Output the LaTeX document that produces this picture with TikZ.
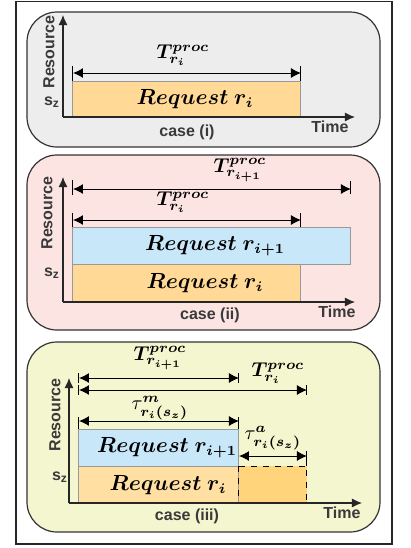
\documentclass[tikz,border=0pt]{standalone}
\usepackage{amsmath,bm}
\usepackage{fontspec}
\setmainfont{Liberation Sans}
\usetikzlibrary{arrows.meta}

\definecolor{panelgray}{HTML}{EDEDED}
\definecolor{panelpink}{HTML}{FCE4E3}
\definecolor{panelyellow}{HTML}{F3F6CE}
\definecolor{reqorange}{HTML}{FFD995}
\definecolor{reqlight}{HTML}{FFDFA2}
\definecolor{reqdark}{HTML}{FFD47A}
\definecolor{reqblue}{HTML}{C8E8FA}
\definecolor{labelgray}{HTML}{3A3A3A}

\tikzset{
	panel/.style={draw=black!80, line width=0.6pt, rounded corners=15pt},
	reqbox/.style={draw=black!40, line width=0.5pt},
	axis/.style={-{Latex[length=5pt,width=4.5pt]}, line width=0.6pt, draw=black!85},
	dimline/.style={{Latex[length=5pt,width=5pt]}-{Latex[length=5pt,width=5pt]}, line width=0.5pt},
	dimbar/.style={line width=0.5pt},
	lbl/.style={font=\bfseries\fontsize{8}{9}\selectfont, text=labelgray, inner sep=0pt},
	mlbl/.style={font=\fontsize{10}{11}\selectfont, inner sep=0pt},
	reqlbl/.style={font=\fontsize{10.5}{11}\selectfont, inner sep=0pt},
}

\begin{document}
\begin{tikzpicture}[x=0.5pt, y=-0.5pt]
	\useasboundingbox (0,0) rectangle (411,548);
	\draw [line width=0.7pt, black!85] (16,1.5) rectangle (392,544);

	% case (i)
	\draw [panel, fill=panelgray] (27,12) rectangle (380,147);
	\coordinate (o1) at (63,117);
	\coordinate (y1) at (63,15);
	\coordinate (x1) at (355,117);
	\draw [reqbox, fill=reqorange] (73,81) rectangle (301,117);
	\draw [axis] (o1) -- (y1);
	\draw [axis] (o1) -- (x1);
	\draw [dimbar] (73,66) -- (73,81);
	\draw [dimbar] (301,66) -- (301,81);
	\coordinate (a1l) at (73,73);
	\coordinate (a1r) at (301,73);
	\draw [dimline] (a1l) -- (a1r);
	\node [mlbl] (p1T) at (183,55) {$\bm{T^{proc}_{r_i}}$};
	\node [reqlbl] (p1ri) at (195,99) {$\bm{Request\ r_i}$};
	\node [lbl, rotate=90] (p1res) at (49,52) {Resource};
	\node [lbl] (p1sz) at (52,102) {s\textsubscript{z}};
	\node [lbl] (p1case) at (187,132) {case (i)};
	\node [lbl] (p1time) at (330,127) {Time};

	% case (ii)
	\draw [panel, fill=panelpink] (27,155) rectangle (380,330);
	\coordinate (o2) at (63,302);
	\coordinate (y2) at (63,177);
	\coordinate (x2) at (355,302);
	\draw [reqbox, fill=reqblue] (73,227) rectangle (351,264);
	\draw [reqbox, fill=reqorange] (73,264) rectangle (301,302);
	\draw [axis] (o2) -- (y2);
	\draw [axis] (o2) -- (x2);
	\draw [dimbar] (73,180) -- (73,195);
	\draw [dimbar] (351,181) -- (351,194);
	\draw [dimbar] (73,213) -- (73,227);
	\draw [dimbar] (301,213) -- (301,227);
	\coordinate (a2l) at (73,189);
	\coordinate (a2r) at (351,189);
	\coordinate (b2l) at (73,220);
	\coordinate (b2r) at (301,220);
	\draw [dimline] (a2l) -- (a2r);
	\draw [dimline] (b2l) -- (b2r);
	\node [mlbl] (p2Tn) at (240,170) {$\bm{T^{proc}_{r_{i+1}}}$};
	\node [mlbl] (p2T) at (183,202) {$\bm{T^{proc}_{r_i}}$};
	\node [reqlbl] (p2rn) at (215,246) {$\bm{Request\ r_{i+1}}$};
	\node [reqlbl] (p2ri) at (205,283) {$\bm{Request\ r_i}$};
	\node [lbl, rotate=90] (p2res) at (47,213) {Resource};
	\node [lbl] (p2sz) at (52,273) {s\textsubscript{z}};
	\node [lbl] (p2case) at (210,315) {case (ii)};
	\node [lbl] (p2time) at (337,312) {Time};

	% case (iii)
	\draw [panel, fill=panelyellow] (27,342) rectangle (380,532);
	\coordinate (o3) at (69,503);
	\coordinate (y3) at (69,378);
	\coordinate (x3) at (362,503);
	\draw [reqbox, fill=reqblue] (79,429) rectangle (239,466);
	\draw [reqbox, fill=reqlight] (79,466) rectangle (239,503);
	\draw [line width=0.5pt, dashed, fill=reqdark] (239,466) rectangle (307,503);
	\draw [axis] (o3) -- (y3);
	\draw [axis] (o3) -- (x3);
	\draw [dimbar] (79,373) -- (79,383);
	\draw [dimbar] (239,373) -- (239,383);
	\draw [dimbar] (79,385) -- (79,395);
	\draw [dimbar] (307,385) -- (307,395);
	\draw [dimbar] (79,417) -- (79,429);
	\draw [dimbar] (239,417) -- (239,429);
	\draw [dimbar] (307,451) -- (307,466);
	\coordinate (a3l) at (79,378);
	\coordinate (a3r) at (239,378);
	\coordinate (b3l) at (79,390);
	\coordinate (b3r) at (307,390);
	\coordinate (m3l) at (79,421);
	\coordinate (m3r) at (239,421);
	\coordinate (t3l) at (239,456);
	\coordinate (t3r) at (307,456);
	\draw [dimline] (a3l) -- (a3r);
	\draw [dimline] (b3l) -- (b3r);
	\draw [dimline] (m3l) -- (m3r);
	\draw [dimline] (t3l) -- (t3r);
	\node [mlbl] (p3Tn) at (160,358) {$\bm{T^{proc}_{r_{i+1}}}$};
	\node [mlbl] (p3T) at (278,373) {$\bm{T^{proc}_{r_i}}$};
	\node [mlbl] (p3taum) at (160,408) {$\tau^{\bm{m}}_{\bm{r_i(s_z)}}$};
	\node [mlbl] (p3taua) at (273,438) {$\tau^{\bm{a}}_{\bm{r_i(s_z)}}$};
	\node [reqlbl] (p3rn) at (167,448) {$\bm{Request\ r_{i+1}}$};
	\node [reqlbl] (p3ri) at (168,485) {$\bm{Request\ r_i}$};
	\node [lbl, rotate=90] (p3res) at (55,415) {Resource};
	\node [lbl] (p3sz) at (60,477) {s\textsubscript{z}};
	\node [lbl] (p3case) at (187,516) {case (iii)};
	\node [lbl] (p3time) at (342,513) {Time};
\end{tikzpicture}
\end{document}
